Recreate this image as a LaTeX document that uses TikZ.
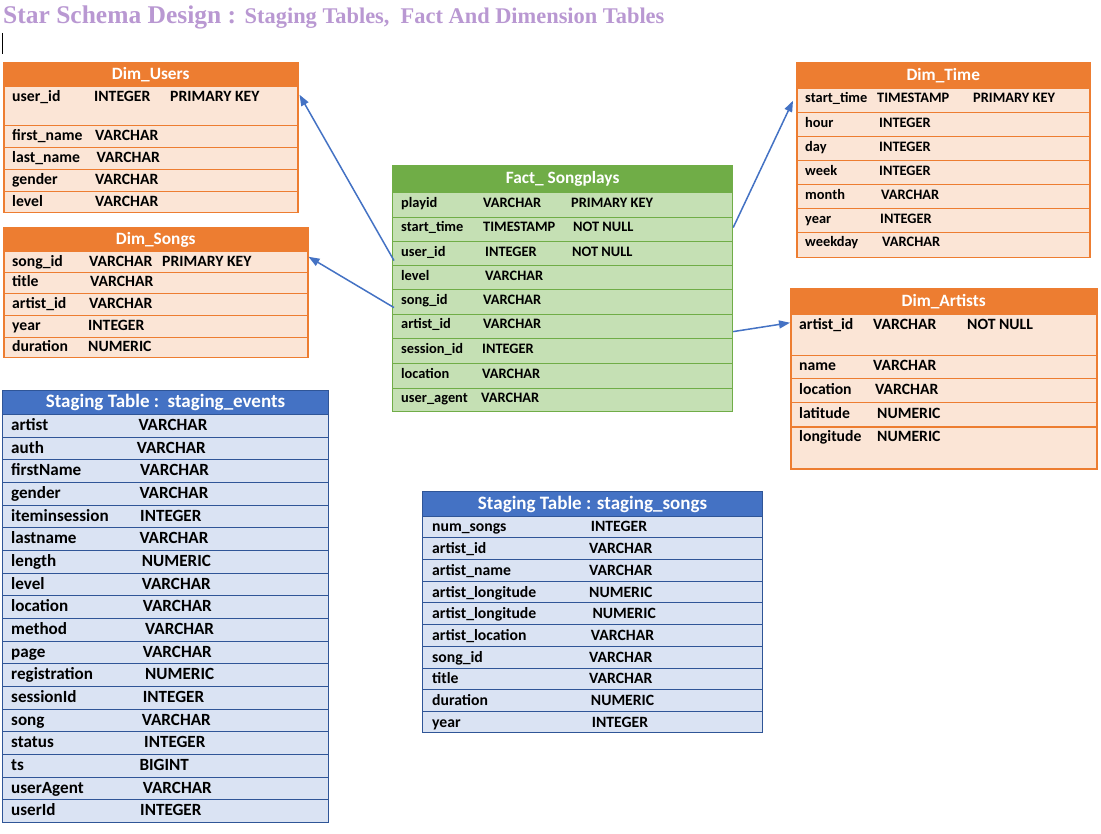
\documentclass[tikz,border=0pt]{standalone}
\usepackage{fontspec}
\setmainfont{Carlito}
\newfontfamily\titlefont{Liberation Serif}
\usetikzlibrary{arrows.meta}
\definecolor{orH}{HTML}{ED7D31}
\definecolor{orF}{HTML}{FBE5D6}
\definecolor{grH}{HTML}{70AD47}
\definecolor{grF}{HTML}{C5E0B4}
\definecolor{blH}{HTML}{4472C4}
\definecolor{blF}{HTML}{DAE3F3}
\definecolor{blL}{HTML}{2F5597}
\definecolor{ttl}{RGB}{185,152,210}
\definecolor{arr}{HTML}{4472C4}
\tikzset{
  hdrbox/.style={rectangle, anchor=north west, inner sep=0pt, text=white},
  ohdr/.style={hdrbox, fill=orH, draw=orH, line width=1.5pt, font=\bfseries\fontsize{17.3}{18}\selectfont},
  ghdr/.style={hdrbox, fill=grH, draw=grH, line width=1.2pt, font=\bfseries\fontsize{17.3}{18}\selectfont},
  bhdr/.style={hdrbox, fill=blH, draw=blL, line width=1pt, font=\bfseries\fontsize{19}{20}\selectfont},
  rowbox/.style={rectangle, anchor=north west, inner sep=0pt},
  orowbox/.style={rowbox, fill=orF, draw=orH, line width=1.5pt},
  growbox/.style={rowbox, fill=grF, draw=grH, line width=1.2pt},
  browbox/.style={rowbox, fill=blF, draw=blL, line width=0.9pt},
  cellbase/.style={anchor=west, inner sep=0pt, text height=0.68em, text depth=0.18em, yshift=-2.5pt},
  cellA/.style={cellbase, font=\bfseries\fontsize{15.7}{16}\selectfont},
  cellB/.style={cellbase, font=\bfseries\fontsize{14.4}{15}\selectfont},
  cellC/.style={cellbase, font=\bfseries\fontsize{17.1}{18}\selectfont},
  conn/.style={draw=arr, line width=1.5pt, -{Triangle[length=11pt,width=8pt]}},
}
\begin{document}
\begin{tikzpicture}[x=1pt,y=-1pt]
\fill[white] (0,0) rectangle (1101,834);
\useasboundingbox (0,0) rectangle (1101,834);

% title
\node[anchor=base west, inner sep=0pt, text=ttl] (title) at (3,23.5)
  {\titlefont\bfseries\fontsize{25.5}{26}\selectfont Star Schema Design : \fontsize{22.4}{23}\selectfont Staging Tables,\ \ Fact And Dimension Tables};
\draw[black, line width=0.9pt] (2.7,33) -- (2.7,54);

% Dim_Users
\foreach \nm/\yt/\h in {u1/85/40, u2/125/22, u3/147/22, u4/169/22, u5/191/21}
  \node[orowbox, minimum width=294pt, minimum height=\h pt] (\nm) at (3,\yt) {};
\node[ohdr, minimum width=294pt, minimum height=24pt] (users) at (3,62) {Dim\_Users};
\foreach \y/\xb/\a/\b [count=\i] in {97/94/user\_id/INTEGER, 136/95/first\_name/VARCHAR, 158/96.5/last\_name/VARCHAR, 180/95/gender/VARCHAR, 202/95/level/VARCHAR}
  {\node[cellA] (u\i-n) at (12,\y) {\a}; \node[cellA] (u\i-t) at (\xb,\y) {\b};}
\node[cellA] (u1-k) at (170,97) {PRIMARY KEY};

% Dim_Songs
\foreach \nm/\yt/\h in {s1/251/21, s2/272/21, s3/293/22, s4/315/22, s5/337/20}
  \node[orowbox, minimum width=304pt, minimum height=\h pt] (\nm) at (3,\yt) {};
\node[ohdr, minimum width=304pt, minimum height=24pt] (songs) at (3,227) {Dim\_Songs};
\foreach \y/\xb/\a/\b [count=\i] in {261.7/89/song\_id/VARCHAR, 282/90/title/VARCHAR, 303.7/89/artist\_id/VARCHAR, 325.7/88/year/INTEGER, 347/88/duration/NUMERIC}
  {\node[cellA] (s\i-n) at (12,\y) {\a}; \node[cellA] (s\i-t) at (\xb,\y) {\b};}
\node[cellA] (s1-k) at (162,261.7) {PRIMARY KEY};

% Dim_Time
\foreach \nm/\yt/\h in {t1/88/24, t2/112/24, t3/136/24, t4/160/24, t5/184/24, t6/208/24, t7/232/25}
  \node[orowbox, minimum width=293pt, minimum height=\h pt] (\nm) at (796,\yt) {};
\node[ohdr, minimum width=293pt, minimum height=26pt] (time) at (796,62) {Dim\_Time};
\foreach \y/\xb/\a/\b [count=\i] in {97.7/877/start\_time/TIMESTAMP, 122.7/879/hour/INTEGER, 146.7/879/day/INTEGER, 170.7/879/week/INTEGER, 195/881/month/VARCHAR, 218.7/880/year/INTEGER, 242/882/weekday/VARCHAR}
  {\node[cellB] (t\i-n) at (805,\y) {\a}; \node[cellB] (t\i-t) at (\xb,\y) {\b};}
\node[cellB] (t1-k) at (973,97.7) {PRIMARY KEY};

% Dim_Artists
\foreach \nm/\yt/\h in {a1/314/41, a2/355/23, a3/378/24, a4/402/24, a5/426/42}
  \node[orowbox, minimum width=306pt, minimum height=\h pt] (\nm) at (790,\yt) {};
\node[ohdr, minimum width=306pt, minimum height=26pt] (artists) at (790,288) {Dim\_Artists};
\foreach \y/\xb/\a/\b [count=\i] in {324.3/873/artist\_id/VARCHAR, 366/873/name/VARCHAR, 390/875/location/VARCHAR, 413/877/latitude/NUMERIC, 437/877/longitude/NUMERIC}
  {\node[cellA] (a\i-n) at (799,\y) {\a}; \node[cellA] (a\i-t) at (\xb,\y) {\b};}
\node[cellA] (a1-k) at (967,324.3) {NOT NULL};

% Fact_Songplays
\foreach \nm/\yt/\h in {f1/192/25, f2/217/24, f3/241/24, f4/265/24, f5/289/25, f6/314/24, f7/338/25, f8/363/25, f9/388/23}
  \node[growbox, minimum width=340pt, minimum height=\h pt] (\nm) at (392,\yt) {};
\node[ghdr, minimum width=340pt, minimum height=27pt] (fact) at (392,165) {Fact\_ Songplays};
\foreach \y/\xb/\a/\b [count=\i] in {202.7/483/playid/VARCHAR, 226.7/483/start\_time/TIMESTAMP, 251.3/485/user\_id/INTEGER, 275.7/485/level/VARCHAR, 299.7/483/song\_id/VARCHAR, 323.3/483/artist\_id/VARCHAR, 348.7/482/session\_id/INTEGER, 373.3/482/location/VARCHAR, 397.7/481/user\_agent/VARCHAR}
  {\node[cellB] (f\i-n) at (401,\y) {\a}; \node[cellB] (f\i-t) at (\xb,\y) {\b};}
\node[cellB] (f1-k) at (571,202.7) {PRIMARY KEY};
\node[cellB] (f2-k) at (573,226.7) {NOT NULL};
\node[cellB] (f3-k) at (572,251.3) {NOT NULL};

% Staging events
\foreach \a/\xb/\b [count=\i] in {artist/138.3/VARCHAR, auth/136.7/VARCHAR, firstName/140/VARCHAR, gender/139.3/VARCHAR, iteminsession/140/INTEGER, lastname/139.3/VARCHAR, length/141.7/NUMERIC, level/141.7/VARCHAR, location/142.7/VARCHAR, method/145/VARCHAR, page/142.7/VARCHAR, registration/145/NUMERIC, sessionId/142.7/INTEGER, song/141.7/VARCHAR, status/144/INTEGER, ts/139.3/BIGINT, userAgent/142.7/VARCHAR, userId/140/INTEGER}
  {\node[browbox, minimum width=326pt, minimum height=22.667pt] (e\i) at (2,{414+22.667*(\i-1)}) {};
   \node[cellC] (e\i-n) at (11,{414+22.667*(\i-0.5)}) {\a};
   \node[cellC] (e\i-t) at (\xb,{414+22.667*(\i-0.5)}) {\b};}
\node[bhdr, minimum width=326pt, minimum height=24pt] (events) at (2,390) {Staging Table :\ \ staging\_events};

% Staging songs
\foreach \nm/\yt/\h in {g1/516/21, g2/537/22, g3/559/22, g4/581/21, g5/602/22, g6/624/22, g7/646/22, g8/668/21, g9/689/22, g10/711/21}
  \node[browbox, minimum width=340pt, minimum height=\h pt] (\nm) at (422,\yt) {};
\node[bhdr, minimum width=340pt, minimum height=25pt] (stsongs) at (422,491) {Staging Table : staging\_songs};
\foreach \y/\xb/\a/\b [count=\i] in {526.7/590.7/num\_songs/INTEGER, 548.3/589/artist\_id/VARCHAR, 570/589/artist\_name/VARCHAR, 592/589/artist\_longitude/NUMERIC, 613.7/592.3/artist\_longitude/NUMERIC, 635/590.7/artist\_location/VARCHAR, 657/589/song\_id/VARCHAR, 678/589/title/VARCHAR, 700/590.7/duration/NUMERIC, 722/591.7/year/INTEGER}
  {\node[cellA] (g\i-n) at (432,\y) {\a}; \node[cellA] (g\i-t) at (\xb,\y) {\b};}

% connectors
\draw[conn] ([xshift=2pt,yshift=-7pt]f3.west) -- ([xshift=1pt,yshift=11pt]u1.east);
\draw[conn] ([xshift=2pt,yshift=-5.5pt]f5.west) -- ([yshift=5.5pt]s1.east);
\draw[conn] ([yshift=2pt]f2.east) -- ([xshift=-3pt]t1.west);
\draw[conn] ([yshift=-5pt]f6.east) -- ([yshift=12.5pt]a1.west);
\end{tikzpicture}
\end{document}
